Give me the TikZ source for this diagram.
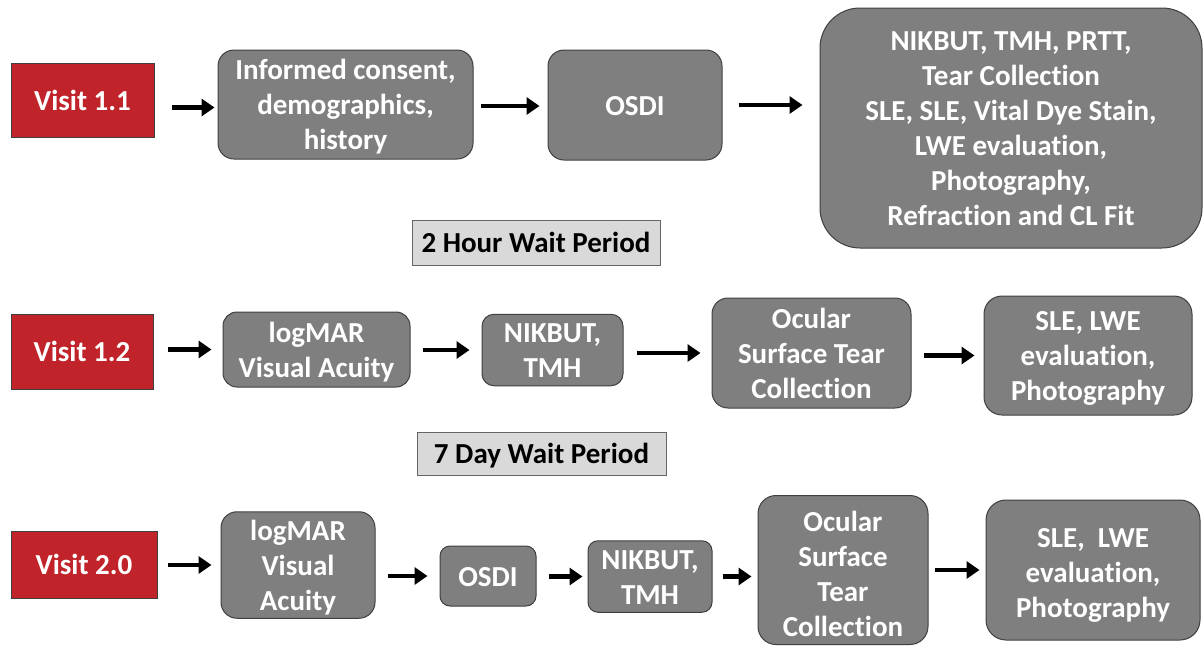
\documentclass[tikz,border=0pt]{standalone}
\usepackage{fontspec}
\setmainfont{Carlito}[Ligatures=NoCommon]
\usetikzlibrary{arrows.meta}
\definecolor{stepgray}{HTML}{7F7F7F}
\definecolor{stepedge}{HTML}{3F3F3F}
\definecolor{visitred}{HTML}{C0242A}
\definecolor{waitfill}{HTML}{D9D9D9}
% fixed ascent/descent so every text block sits the same way in its box
\newcommand{\topstrut}[1][28.5pt]{\rule{0pt}{#1}}
\newcommand{\botstrut}{\rule[-8pt]{0pt}{0pt}}
\begin{document}
\begin{tikzpicture}[x=1pt,y=-1pt,
  every node/.style={font=\fontsize{29}{35}\selectfont\bfseries, align=center, inner sep=0pt},
  visit/.style={draw=stepedge, line width=1pt, fill=visitred, text=white},
  stepbox/.style={draw=stepedge, line width=1pt, fill=stepgray, text=white, rounded corners=16pt},
  waitbox/.style={draw=stepedge!80, line width=1pt, fill=waitfill, text=black},
  arr/.style={line width=4.5pt, -{Triangle[length=13pt,width=17pt]}}
]
\useasboundingbox (0,0) rectangle (1204,646);

% ---- Visit 1.1 ----
\node[visit, minimum width=143pt, minimum height=74pt] (v11) at (82.5,100) {\topstrut Visit 1.1\botstrut};
\node[stepbox, minimum width=255pt, minimum height=109pt] (inf) at (345.5,104.5) {\topstrut Informed consent,\\demographics,\\history\botstrut};
\node[stepbox, minimum width=174pt, minimum height=110pt] (osdiA) at (635,105) {\topstrut OSDI\botstrut};
\node[stepbox, rounded corners=40pt, minimum width=382pt, minimum height=240pt] (allA) at (1011,128)
  {\topstrut NIKBUT, TMH, PRTT,\\Tear Collection\\SLE, SLE, Vital Dye Stain,\\LWE evaluation,\\Photography,\\Refraction and CL Fit\botstrut};

\draw[arr, shorten <=17pt, shorten >=3pt, transform canvas={yshift=-3pt}] (v11.east |- inf.west) -- (inf.west);
\draw[arr, shorten <=7pt, shorten >=8pt, transform canvas={yshift=-1pt}] (inf.east |- osdiA.west) -- (osdiA.west);
\draw[arr, shorten <=16pt, shorten >=17pt] (osdiA.east) -- (osdiA.east -| allA.west);

\node[waitbox, minimum width=248pt, minimum height=45pt] (wait2h) at (536,242.5) {\topstrut 2 Hour Wait Period\botstrut};

% ---- Visit 1.2 ----
\node[visit, minimum width=142pt, minimum height=75pt] (v12) at (82,351.5) {\topstrut Visit 1.2\botstrut};
\node[stepbox, rounded corners=14pt, minimum width=187pt, minimum height=75pt] (vaB) at (316.5,349.5) {\topstrut logMAR\\Visual Acuity\botstrut};
\node[stepbox, rounded corners=12pt, minimum width=141pt, minimum height=70pt] (nikB) at (552.5,350) {\topstrut NIKBUT,\\TMH\botstrut};
\node[stepbox, rounded corners=16pt, minimum width=199pt, minimum height=110pt] (tearB) at (811.5,353) {\topstrut Ocular\\Surface Tear\\Collection\botstrut};
\node[stepbox, rounded corners=18pt, minimum width=208pt, minimum height=119pt] (sleB) at (1088,355.5) {\topstrut SLE, LWE\\evaluation,\\Photography\botstrut};

\draw[arr, shorten <=14pt, shorten >=11pt] (v12.east |- vaB.west) -- (vaB.west);
\draw[arr, shorten <=12pt, shorten >=12pt] (vaB.east |- nikB.west) -- (nikB.west);
\draw[arr, shorten <=13pt, shorten >=11pt] (nikB.east |- tearB.west) -- (tearB.west);
\draw[arr, shorten <=12pt, shorten >=9pt] (tearB.east |- sleB.west) -- (sleB.west);

\node[waitbox, minimum width=249pt, minimum height=43pt] (wait7d) at (541.5,453.5) {\topstrut 7 Day Wait Period\botstrut};

% ---- Visit 2.0 ----
\node[visit, minimum width=146pt, minimum height=67pt] (v20) at (84,564.5) {\topstrut Visit 2.0\botstrut};
\node[stepbox, rounded corners=16pt, minimum width=154pt, minimum height=106pt] (vaC) at (298,565) {\topstrut logMAR\\Visual\\Acuity\botstrut};
\node[stepbox, rounded corners=10pt, minimum width=96pt, minimum height=60pt] (osdiC) at (488,576) {\topstrut OSDI\botstrut};
\node[stepbox, rounded corners=10pt, minimum width=124pt, minimum height=63pt] (nikC) at (650,576.5) {\topstrut NIKBUT,\\TMH\botstrut};
\node[stepbox, rounded corners=18pt, minimum width=170pt, minimum height=145pt] (tearC) at (843,570) {\topstrut[36pt]Ocular\\Surface\\Tear\\Collection\botstrut};
\node[stepbox, rounded corners=20pt, minimum width=214pt, minimum height=140pt] (sleC) at (1093,570) {\topstrut[32.5pt]SLE,\ \ LWE\\evaluation,\\Photography\botstrut};

\draw[arr, shorten <=10pt, shorten >=9pt] (v20.east |- vaC.west) -- (vaC.west);
\draw[arr, shorten <=12pt, shorten >=12pt] (vaC.east |- osdiC.west) -- (osdiC.west);
\draw[arr, shorten <=12pt, shorten >=5pt] (osdiC.east |- nikC.west) -- (nikC.west);
\draw[arr, shorten <=10pt, shorten >=6pt] (nikC.east) -- (nikC.east -| tearC.west);
\draw[arr, shorten <=6pt, shorten >=6pt] (tearC.east |- sleC.west) -- (sleC.west);
\end{tikzpicture}
\end{document}
